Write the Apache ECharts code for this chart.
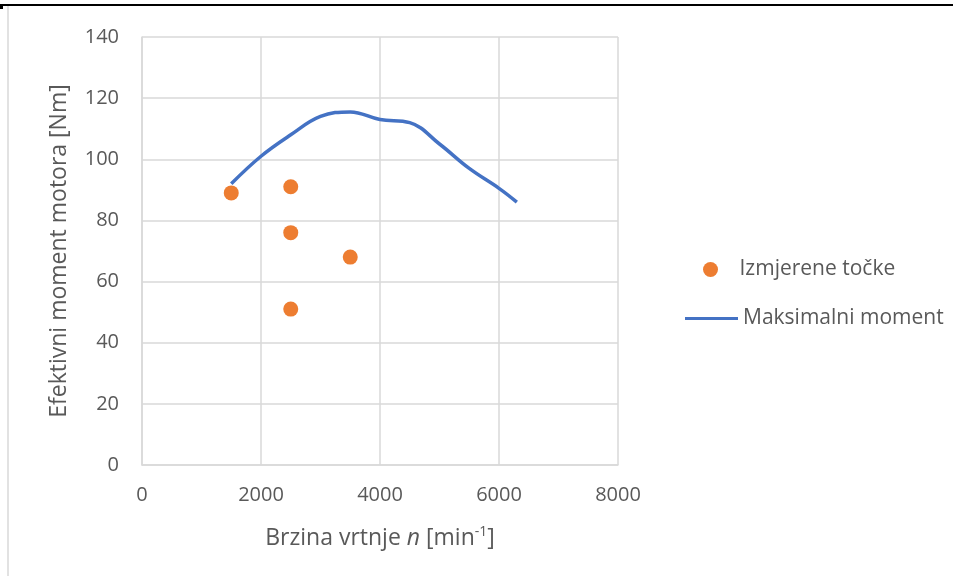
<!DOCTYPE html>
<html>
<head>
<meta charset="utf-8">
<script src="https://cdn.jsdelivr.net/npm/echarts@6/dist/echarts.min.js"></script>
<style>
 html,body{margin:0;padding:0;background:#fff;}
 #chart{width:953px;height:576px;}
</style>
</head>
<body>
<div id="chart"></div>
<script>
 // izmjerene tocke
 var pointsN = [1500, 2500, 2500, 3500, 2500];
 var pointsM = [89, 91, 76, 68, 51];
 // krivulja maksimalnog momenta
 var curveN = [1500, 2000, 2500, 3000, 3500, 4000, 4500, 5000, 5500, 6000, 6300];
 var curveM = [92, 101, 108, 114, 115.5, 113, 112, 105, 97, 90.5, 86];

 var scatterData = [];
 for (var i = 0; i < pointsN.length; i++) {
   scatterData.push([pointsN[i], pointsM[i]]);
 }
 var lineData = [];
 for (var j = 0; j < curveN.length; j++) {
   lineData.push([curveN[j], curveM[j]]);
 }

 var font = "'Open Sans', 'Noto Sans', sans-serif";
 var grey = '#595959';
 var gridGrey = '#d9d9d9';

 var myChart = echarts.init(document.getElementById('chart'));
 var option = {
   animation: false,
   textStyle: {fontFamily: font},
   grid: {left: 142, right: 335, top: 37, bottom: 111},
   graphic: [
     {type: 'line', shape: {x1: 0, y1: 5, x2: 953, y2: 5}, style: {stroke: '#000', lineWidth: 2}},
     {type: 'rect', shape: {x: 0, y: 4, width: 3, height: 5}, style: {fill: '#000'}},
     {type: 'line', shape: {x1: 8, y1: 6, x2: 8, y2: 576}, style: {stroke: gridGrey, lineWidth: 1.5}}
   ],
   legend: [
     {
       left: 698,
       top: 254,
       itemWidth: 48,
       itemHeight: 15,
       textStyle: {color: grey, fontSize: 21, fontFamily: font},
       data: [{name: 'Izmjerene točke', icon: 'circle'}]
     },
     {
       left: 680,
       top: 303,
       itemWidth: 53,
       itemHeight: 3,
       textStyle: {color: grey, fontSize: 21, fontFamily: font},
       data: [{name: 'Maksimalni moment', icon: 'rect'}]
     }
   ],
   xAxis: {
     type: 'value',
     min: 0,
     max: 8000,
     interval: 2000,
     name: '{a|Brzina vrtnje }{i|n}{a| [min}{s|-1}{a|]}',
     nameLocation: 'middle',
     nameGap: 60,
     nameTextStyle: {
       rich: {
         a: {fontSize: 23, color: grey, fontFamily: font},
         i: {fontSize: 23, color: grey, fontFamily: font, fontStyle: 'italic'},
         s: {fontSize: 14, color: grey, fontFamily: font, verticalAlign: 'top', padding: [0, 0, 12, 0]}
       }
     },
     axisLine: {show: true, lineStyle: {color: gridGrey, width: 1.5}},
     axisTick: {show: false},
     axisLabel: {color: grey, fontSize: 20, margin: 20, formatter: function (v) { return String(v); }},
     splitLine: {show: true, lineStyle: {color: gridGrey, width: 1.5}}
   },
   yAxis: {
     type: 'value',
     min: 0,
     max: 140,
     interval: 20,
     name: 'Efektivni moment motora [Nm]',
     nameLocation: 'middle',
     nameGap: 71,
     nameTextStyle: {color: grey, fontSize: 23},
     axisLine: {show: true, lineStyle: {color: gridGrey, width: 1.5}},
     axisTick: {show: false},
     axisLabel: {color: grey, fontSize: 20, margin: 23},
     splitLine: {show: true, lineStyle: {color: gridGrey, width: 1.5}}
   },
   series: [
     {
       name: 'Izmjerene točke',
       type: 'scatter',
       data: scatterData,
       symbol: 'circle',
       symbolSize: 15,
       itemStyle: {color: '#ed7d31', opacity: 1},
       z: 3
     },
     {
       name: 'Maksimalni moment',
       type: 'line',
       data: lineData,
       smooth: 0.4,
       showSymbol: false,
       symbol: 'none',
       lineStyle: {color: '#4472c4', width: 3.5},
       itemStyle: {color: '#4472c4'},
       z: 2
     }
   ]
 };
 myChart.setOption(option);
</script>
</body>
</html>
